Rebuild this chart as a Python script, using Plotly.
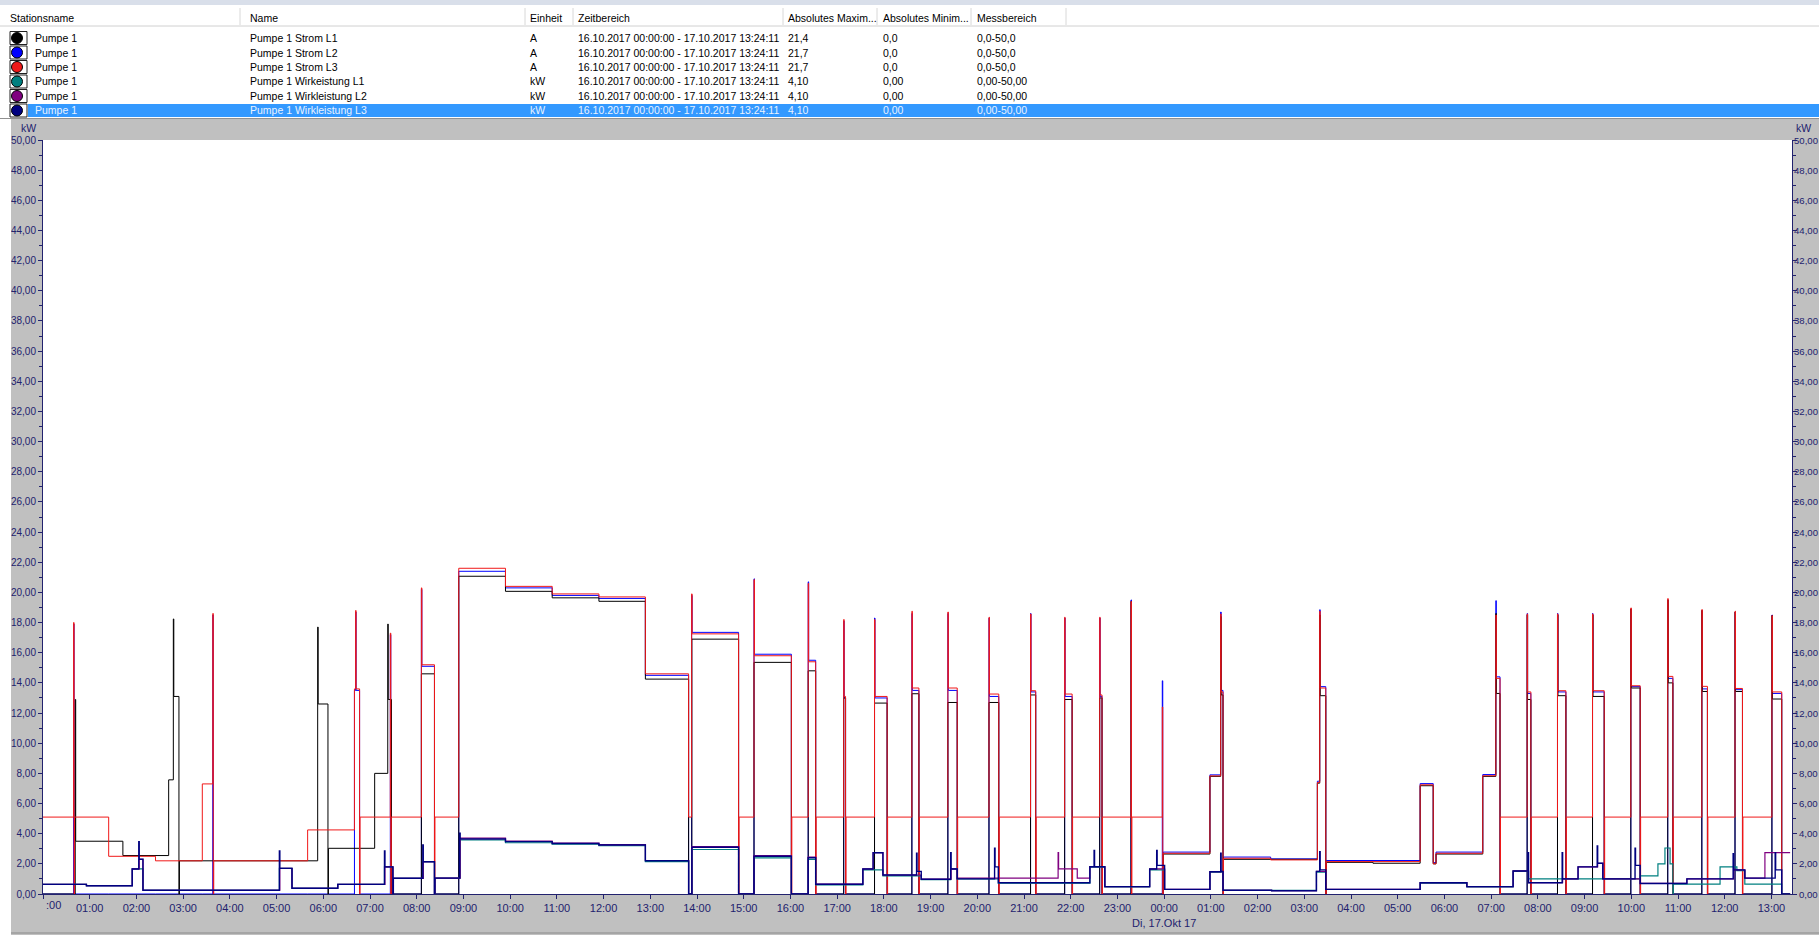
import pandas as pd
import plotly.graph_objects as go

# ---------------- data (hours since 16.10.2017 00:00) ----------------
START = "2017-10-16 00:00:00"

T_STROM_L3 = [0.00, 0.655, 0.665, 0.675, 1.406, 2.408, 3.410, 3.635, 3.645, 3.655, 5.665, 6.667, 6.692, 6.702,
              6.777, 6.787, 7.435, 7.445, 7.455, 8.100, 8.110, 8.380, 8.390, 8.900, 9.900, 10.90, 11.90, 12.895,
              13.82, 13.885, 13.895, 14.89, 14.90, 15.22, 15.23, 16.02, 16.03, 16.38, 16.39, 16.54, 16.55,
              17.14, 17.15, 17.18, 17.19, 17.80, 17.81, 18.07, 18.08, 18.60, 18.61, 18.75, 18.76,
              19.37, 19.38, 19.57, 19.58, 20.25, 20.26, 20.46, 20.47, 21.14, 21.15, 21.25, 21.26,
              21.87, 21.88, 22.03, 22.04, 22.62, 22.63, 22.67, 22.68, 23.29, 23.30, 23.31,
              23.96, 23.97, 23.98, 24.98, 25.21, 25.22, 25.26, 25.27, 26.28, 27.28, 27.33, 27.34, 27.46, 27.47,
              29.48, 29.76, 29.82, 30.82, 31.10, 31.11, 31.19, 31.20, 31.77, 31.78, 31.85, 31.86,
              32.42, 32.43, 32.60, 32.61, 33.17, 33.18, 33.42, 33.43, 33.99, 34.00, 34.19, 34.20,
              34.78, 34.79, 34.89, 34.90, 35.51, 35.52, 35.63, 35.64, 36.22, 36.23, 36.38, 36.39,
              37.01, 37.02, 37.22, 37.40]
STROM_L3 = [5.10, 18.0, 0.0, 5.10, 2.50, 2.20, 7.30, 18.6, 0.0, 2.20, 4.25, 13.6, 18.8, 13.6,
            0.0, 5.10, 17.3, 0.0, 5.10, 20.3, 15.2, 0.0, 5.10, 21.6, 20.4, 19.9, 19.7, 14.6,
            5.10, 19.9, 17.25, 0.0, 5.10, 20.85, 15.8, 0.0, 5.10, 20.6, 15.4, 0.0, 5.10,
            18.2, 13.1, 0.0, 5.10, 18.2, 13.1, 0.0, 5.10, 18.75, 13.66, 0.0, 5.10,
            18.7, 13.66, 0.0, 5.10, 18.35, 13.26, 0.0, 5.10, 18.57, 13.48, 0.0, 5.10,
            18.35, 13.26, 0.0, 5.10, 18.35, 13.2, 0.0, 5.10, 19.4, 0.0, 5.10,
            12.4, 0.0, 2.70, 7.83, 18.57, 13.4, 0.0, 2.37, 2.26, 7.40, 18.75, 13.66, 0.0, 2.15,
            7.24, 2.00, 2.70, 7.84, 18.5, 14.3, 0.0, 5.10, 18.57, 13.4, 0.0, 5.10,
            18.57, 13.48, 0.0, 5.10, 18.57, 13.48, 0.0, 5.10, 18.97, 13.81, 0.0, 5.10,
            19.59, 14.43, 0.0, 5.10, 18.86, 13.77, 0.0, 5.10, 18.75, 13.63, 0.0, 5.10,
            18.46, 13.4, 0.0, 0.0]
STROM_L2 = [0.0, 17.9, 0.0, 0.0, 0.0, 0.0, 0.0, 18.5, 0.0, 0.0, 0.0, 13.5, 18.7, 13.5,
            0.0, 0.0, 17.2, 0.0, 0.0, 20.2, 15.1, 0.0, 0.0, 21.4, 20.3, 19.8, 19.6, 14.5,
            0.0, 19.8, 17.35, 0.0, 0.0, 20.9, 15.9, 0.0, 0.0, 20.7, 15.5, 0.0, 0.0,
            18.1, 13.0, 0.0, 0.0, 18.3, 13.0, 0.0, 0.0, 18.6, 13.5, 0.0, 0.0,
            18.6, 13.5, 0.0, 0.0, 18.3, 13.1, 0.0, 0.0, 18.6, 13.4, 0.0, 0.0,
            18.3, 13.1, 0.0, 0.0, 18.3, 13.1, 0.0, 0.0, 19.5, 0.0, 0.0,
            14.14, 0.0, 2.78, 7.90, 18.7, 13.5, 0.0, 2.45, 2.33, 7.48, 18.85, 13.75, 0.0, 2.22,
            7.32, 2.08, 2.78, 7.92, 19.45, 14.4, 0.0, 0.0, 18.6, 13.3, 0.0, 0.0,
            18.6, 13.4, 0.0, 0.0, 18.6, 13.4, 0.0, 0.0, 18.9, 13.75, 0.0, 0.0,
            19.5, 14.3, 0.0, 0.0, 18.8, 13.6, 0.0, 0.0, 18.7, 13.55, 0.0, 0.0,
            18.5, 13.3, 0.0, 0.0]

T_STROM_L1 = [0.00, 0.69, 0.70, 1.71, 2.69, 2.79, 2.80, 2.91, 2.92, 5.88, 5.89, 6.10, 6.11, 7.10, 7.38, 7.39,
              7.46, 8.10, 8.38, 8.90, 9.90, 10.90, 11.90, 12.895, 13.82, 13.89, 14.89, 15.22, 16.02, 16.38,
              16.54, 17.14, 17.18, 17.80, 18.07, 18.60, 18.75, 19.37, 19.57, 20.25, 20.46, 21.14, 21.25,
              21.87, 22.03, 22.62, 22.67, 23.29, 23.30, 23.98, 24.98, 25.21, 25.22, 25.26, 25.27, 27.28,
              27.33, 27.34, 27.46, 27.47, 28.47, 29.48, 29.76, 29.82, 30.82, 31.10, 31.11, 31.19, 31.77,
              31.78, 31.85, 32.42, 32.43, 32.60, 33.17, 33.18, 33.42, 33.99, 34.00, 34.19, 34.78, 34.79,
              34.89, 35.51, 35.52, 35.63, 36.22, 36.23, 36.38, 37.01, 37.02, 37.22, 37.40]
STROM_L1 = [0.0, 12.9, 3.50, 2.55, 7.57, 18.24, 13.1, 0.0, 2.20, 17.7, 12.6, 0.0, 3.03, 8.00, 17.9, 12.9,
            0.0, 14.6, 0.0, 21.07, 20.07, 19.64, 19.41, 14.25, 0.0, 16.9, 0.0, 15.36, 0.0, 14.8,
            0.0, 13.0, 0.0, 12.66, 0.0, 13.28, 0.0, 12.7, 0.0, 12.7, 0.0, 13.2, 0.0,
            12.9, 0.0, 13.0, 0.0, 19.4, 0.0, 2.65, 7.80, 18.4, 13.2, 0.0, 2.30, 7.35,
            18.5, 13.15, 0.0, 2.10, 2.04, 7.18, 2.00, 2.65, 7.80, 18.6, 13.3, 0.0, 18.5,
            12.9, 0.0, 18.5, 13.15, 0.0, 18.5, 13.1, 0.0, 18.9, 13.66, 0.0, 19.5, 14.0,
            0.0, 18.8, 13.43, 0.0, 18.7, 13.43, 0.0, 18.46, 12.93, 0.0, 0.0]

T_WIRK_L3 = [0.00, 0.93, 1.91, 2.05, 2.06, 2.14, 5.06, 5.07, 5.33, 6.31, 7.31, 7.32, 7.49, 7.50, 8.13, 8.14,
             8.38, 8.39, 8.92, 8.93, 9.90, 10.90, 11.90, 12.895, 13.82, 13.89, 14.89, 15.22, 16.02, 16.38,
             16.54, 17.55, 17.77, 17.98, 18.70, 18.71, 18.80, 19.43, 19.44, 19.57, 20.37, 20.38, 20.45,
             22.41, 22.50, 22.51, 22.73, 23.69, 23.84, 23.85, 24.01, 24.98, 25.21, 25.22, 25.26, 26.30,
             27.26, 27.33, 27.34, 27.46, 29.48, 30.48, 31.47, 31.79, 31.80, 32.52, 32.53, 32.86, 33.27,
             33.28, 33.39, 34.08, 34.09, 34.19, 35.19, 36.18, 36.19, 36.43, 37.08, 37.09, 37.22, 37.40]
WIRK_L3 = [0.64, 0.55, 1.66, 3.47, 2.30, 0.25, 2.86, 1.70, 0.38, 0.64, 2.86, 1.80, 0.0, 1.04, 3.25, 2.14,
           0.0, 1.05, 4.03, 3.65, 3.47, 3.35, 3.25, 2.20, 0.0, 3.10, 0.0, 2.50, 0.0, 2.40,
           0.65, 1.66, 2.74, 1.26, 2.70, 1.50, 0.98, 2.74, 1.66, 1.00, 3.03, 1.80, 0.75,
           1.81, 2.88, 1.81, 0.49, 1.66, 2.88, 1.90, 0.31, 1.48, 2.70, 1.50, 0.25, 0.22,
           1.50, 2.80, 1.60, 0.31, 0.75, 0.49, 1.53, 2.74, 0.75, 2.74, 1.00, 1.80, 3.19,
           2.04, 1.00, 3.03, 1.90, 0.70, 1.00, 2.67, 1.60, 1.05, 2.74, 1.60, 0.0, 0.0]

T_WIRK_L2 = [0.00, 0.93, 1.91, 2.06, 2.14, 5.07, 5.33, 6.31, 7.32, 7.49, 7.50, 8.14, 8.38, 8.39, 8.93,
             9.90, 10.90, 11.90, 12.895, 13.82, 13.89, 14.89, 15.22, 16.02, 16.38, 16.54, 17.55, 17.77,
             17.98, 18.80, 19.44, 19.57, 20.45, 21.73, 21.74, 22.14, 22.41, 22.73, 23.69, 24.01, 24.98,
             25.26, 26.30, 27.26, 27.46, 29.48, 30.48, 31.47, 31.80, 32.53, 32.86, 33.28, 33.39, 34.19,
             35.19, 36.19, 36.43, 36.86, 37.40]
WIRK_L2 = [0.64, 0.55, 1.66, 2.30, 0.25, 1.70, 0.38, 0.64, 1.80, 0.0, 1.04, 2.14, 0.0, 1.05, 3.70,
           3.50, 3.38, 3.28, 2.22, 0.0, 3.15, 0.0, 2.55, 0.0, 2.45, 0.65, 1.66, 2.74,
           1.26, 0.98, 1.66, 1.05, 1.05, 2.74, 1.66, 1.05, 1.81, 0.49, 1.66, 0.31, 1.48,
           0.25, 0.22, 1.50, 0.31, 0.75, 0.49, 1.53, 0.75, 1.00, 1.80, 2.04, 1.00, 0.70,
           1.00, 1.60, 1.05, 2.75, 2.75]

T_WIRK_L1 = [0.00, 0.93, 1.91, 2.14, 5.06, 5.33, 6.31, 7.31, 7.49, 7.50, 8.14, 8.38, 8.39, 8.93, 9.90,
             10.90, 11.90, 12.895, 13.82, 13.89, 14.89, 15.22, 16.02, 16.38, 16.54, 17.55, 17.98, 18.80,
             19.43, 19.57, 20.45, 22.41, 22.73, 23.69, 24.01, 24.98, 25.26, 27.26, 27.46, 29.48, 30.48,
             31.47, 31.80, 33.39, 34.19, 34.57, 34.72, 34.83, 34.89, 34.90, 35.90, 36.26, 36.43, 37.22, 37.40]
WIRK_L1 = [0.64, 0.55, 1.66, 0.25, 1.70, 0.38, 0.64, 1.80, 0.0, 1.04, 2.14, 0.0, 1.05, 3.58, 3.40,
           3.30, 3.20, 2.15, 0.0, 2.95, 0.0, 2.40, 0.0, 2.30, 0.60, 1.60, 1.20, 0.95,
           1.66, 1.00, 0.72, 1.78, 0.47, 1.60, 0.30, 1.45, 0.25, 1.45, 0.30, 0.72, 0.47,
           1.50, 1.00, 1.00, 1.20, 2.00, 3.05, 2.00, 0.0, 0.65, 1.80, 1.55, 0.65, 0.0, 0.0]

HOUR_TICKS = list(range(0, 38))
TICK_TEXT = ["", "01:00", "02:00", "03:00", "04:00", "05:00", "06:00", "07:00", "08:00", "09:00", "10:00",
             "11:00", "12:00", "13:00", "14:00", "15:00", "16:00", "17:00", "18:00", "19:00", "20:00",
             "21:00", "22:00", "23:00", "00:00<br>Di, 17.Okt 17", "01:00", "02:00", "03:00", "04:00",
             "05:00", "06:00", "07:00", "08:00", "09:00", "10:00", "11:00", "12:00", "13:00"]
Y_TICKS = list(range(0, 52, 2))

TABLE_HEADER = ["Stationsname", "Name", "Einheit", "Zeitbereich", "Absolutes Maxim...",
                "Absolutes Minim...", "Messbereich"]
TABLE_STATION = ["Pumpe 1"] * 6
TABLE_NAME = ["Pumpe 1 Strom L1", "Pumpe 1 Strom L2", "Pumpe 1 Strom L3",
              "Pumpe 1 Wirkeistung L1", "Pumpe 1 Wirkleistung L2", "Pumpe 1 Wirkleistung L3"]
TABLE_UNIT = ["A", "A", "A", "kW", "kW", "kW"]
TABLE_RANGE = ["16.10.2017 00:00:00 - 17.10.2017 13:24:11"] * 6
TABLE_MAX = ["21,4", "21,7", "21,7", "4,10", "4,10", "4,10"]
TABLE_MIN = ["0,0", "0,0", "0,0", "0,00", "0,00", "0,00"]
TABLE_MESS = ["0,0-50,0", "0,0-50,0", "0,0-50,0", "0,00-50,00", "0,00-50,00", "0,00-50,00"]
SERIES_COLORS = ["#000000", "#0000ff", "#f01818", "#008080", "#800080", "#000080"]

# ---------------- helpers ----------------
t0 = pd.Timestamp(START)


def to_time(hours):
    return [t0 + pd.Timedelta(hours=h) for h in hours]


W, H = 1819, 935
X0, X1, Y0, Y1 = 43, 1792, 140, 894


def px(x):
    return (x - X0) / (X1 - X0)


def py(y):
    return (Y1 - y) / (Y1 - Y0)


AX = "#22226e"
FONT = "Liberation Sans, Arial, sans-serif"
TFONT = 10.5
YFONT = 10

fig = go.Figure()
# currents
fig.add_trace(go.Scatter(x=to_time(T_STROM_L3), y=STROM_L2, mode="lines",
                         line=dict(color=SERIES_COLORS[1], width=1, shape="hv"), name=TABLE_NAME[1]))
fig.add_trace(go.Scatter(x=to_time(T_STROM_L1), y=STROM_L1, mode="lines",
                         line=dict(color=SERIES_COLORS[0], width=1, shape="hv"), name=TABLE_NAME[0]))
fig.add_trace(go.Scatter(x=to_time(T_STROM_L3), y=STROM_L3, mode="lines",
                         line=dict(color=SERIES_COLORS[2], width=1, shape="hv"), name=TABLE_NAME[2]))
# power
fig.add_trace(go.Scatter(x=to_time(T_WIRK_L1), y=WIRK_L1, mode="lines",
                         line=dict(color=SERIES_COLORS[3], width=1.2, shape="hv"), name=TABLE_NAME[3]))
fig.add_trace(go.Scatter(x=to_time(T_WIRK_L2), y=WIRK_L2, mode="lines",
                         line=dict(color=SERIES_COLORS[4], width=1.2, shape="hv"), name=TABLE_NAME[4]))
fig.add_trace(go.Scatter(x=to_time(T_WIRK_L3), y=WIRK_L3, mode="lines",
                         line=dict(color=SERIES_COLORS[5], width=1.4, shape="hv"), name=TABLE_NAME[5],
                         yaxis="y2"))

x_end = t0 + pd.Timedelta(hours=37.44)

yax = dict(range=[0, 50], tickmode="array", tickvals=Y_TICKS, tickformat=".2f", ticks="outside", ticklen=4,
           automargin=False,
           tickcolor=AX, showgrid=False, zeroline=False, showline=True, linecolor=AX,
           linewidth=1, tickfont=dict(family=FONT, size=YFONT, color=AX),
           minor=dict(ticks="outside", ticklen=3, dtick=1, tickcolor=AX, showgrid=False))

fig.update_layout(
    width=W, height=H,
    margin=dict(l=X0, r=W - X1, t=Y0, b=H - Y1, pad=0, autoexpand=False),
    paper_bgcolor="#c0c0c0", plot_bgcolor="#ffffff",
    showlegend=False,
    separators=",.",
    font=dict(family=FONT, size=11, color=AX),
    xaxis=dict(type="date", range=[t0, x_end], tickmode="array", automargin=False,
               tickvals=to_time(HOUR_TICKS), ticktext=TICK_TEXT, tickangle=0,
               ticks="outside", ticklen=4, tickcolor=AX, showgrid=False, zeroline=False,
               showline=True, linecolor=AX, linewidth=1,
               tickfont=dict(family=FONT, size=11, color=AX)),
    yaxis=yax,
    yaxis2=dict(yax, side="right", overlaying="y", showticklabels=False),
)

shapes = []
ann = []
xl, xr = px(0), px(W)
# white strip at the far left of the grey panel
shapes.append(dict(type="rect", xref="paper", yref="paper", x0=xl, x1=px(11), y0=py(935), y1=py(118),
                   fillcolor="#ffffff", line=dict(width=0), layer="above"))
shapes.append(dict(type="line", xref="paper", yref="paper", x0=px(11), x1=xr, y0=py(933), y1=py(933),
                   line=dict(color="#8a8a8a", width=1), layer="above"))
# table background
shapes.append(dict(type="rect", xref="paper", yref="paper", x0=xl, x1=xr, y0=py(118), y1=py(0),
                   fillcolor="#ffffff", line=dict(width=0), layer="above"))
shapes.append(dict(type="rect", xref="paper", yref="paper", x0=xl, x1=xr, y0=py(5), y1=py(0),
                   fillcolor="#d9dfea", line=dict(width=0), layer="above"))
shapes.append(dict(type="line", xref="paper", yref="paper", x0=xl, x1=xr, y0=py(26), y1=py(26),
                   line=dict(color="#d0d0d0", width=1), layer="above"))
for sx in [240, 525, 573, 783, 877, 971, 1066]:
    shapes.append(dict(type="line", xref="paper", yref="paper", x0=px(sx), x1=px(sx), y0=py(25), y1=py(8),
                       line=dict(color="#d8d8d8", width=1), layer="above"))
ROW_Y = [38, 52.5, 67, 81.5, 96, 110.5]
# selected row
shapes.append(dict(type="rect", xref="paper", yref="paper", x0=px(28), x1=xr, y0=py(117), y1=py(104),
                   fillcolor="#3399ff", line=dict(width=0), layer="above"))
shapes.append(dict(type="line", xref="paper", yref="paper", x0=xl, x1=xr, y0=py(118.5), y1=py(118.5),
                   line=dict(color="#909090", width=1), layer="above"))

COL_X = [8, 248, 528, 576, 786, 881, 975]
for cx, txt in zip(COL_X, TABLE_HEADER):
    ann.append(dict(x=px(cx), y=py(18), xref="paper", yref="paper", text=txt, showarrow=False,
                    xanchor="left", yanchor="middle", font=dict(family=FONT, size=TFONT, color="#000000")))
for i, ry in enumerate(ROW_Y):
    col = "#e8f2ff" if i == 5 else "#000000"
    shapes.append(dict(type="rect", xref="paper", yref="paper", x0=px(10), x1=px(27), y0=py(ry + 6.5),
                       y1=py(ry - 6.5), fillcolor="#ffffff", line=dict(color="#202020", width=1),
                       layer="above"))
    shapes.append(dict(type="circle", xref="paper", yref="paper", x0=px(11.5), x1=px(22.5), y0=py(ry + 5.5),
                       y1=py(ry - 5.5), fillcolor=SERIES_COLORS[i], line=dict(color="#000000", width=1),
                       layer="above"))
    vals = [TABLE_STATION[i], TABLE_NAME[i], TABLE_UNIT[i], TABLE_RANGE[i], TABLE_MAX[i], TABLE_MIN[i],
            TABLE_MESS[i]]
    for j, (cx, txt) in enumerate(zip(COL_X, vals)):
        x = 33 if j == 0 else cx
        ann.append(dict(x=px(x), y=py(ry), xref="paper", yref="paper", text=txt, showarrow=False,
                        xanchor="left", yanchor="middle", font=dict(family=FONT, size=TFONT, color=col)))

# right-hand value labels (same scale as the left axis), kept inside the page edge
for v in Y_TICKS:
    ann.append(dict(x=px(1819), y=v, xref="paper", yref="y", text=f"{v:.2f}".replace(".", ","),
                    showarrow=False, xanchor="right", yanchor="middle", borderpad=0,
                    font=dict(family=FONT, size=9.6, color=AX)))

# axis unit labels
ann.append(dict(x=px(28), y=py(128), xref="paper", yref="paper", text="kW", showarrow=False,
                xanchor="center", yanchor="middle", font=dict(family=FONT, size=10.5, color=AX)))
ann.append(dict(x=px(1803), y=py(128), xref="paper", yref="paper", text="kW", showarrow=False,
                xanchor="center", yanchor="middle", font=dict(family=FONT, size=10.5, color=AX)))
ann.append(dict(x=px(44), y=py(905), xref="paper", yref="paper", text=":00", showarrow=False,
                xanchor="left", yanchor="middle", font=dict(family=FONT, size=11, color=AX)))

fig.update_layout(shapes=shapes, annotations=ann)
fig.write_html("out.html", config={"displayModeBar": False},
               post_script="document.body.style.margin='0px';")
